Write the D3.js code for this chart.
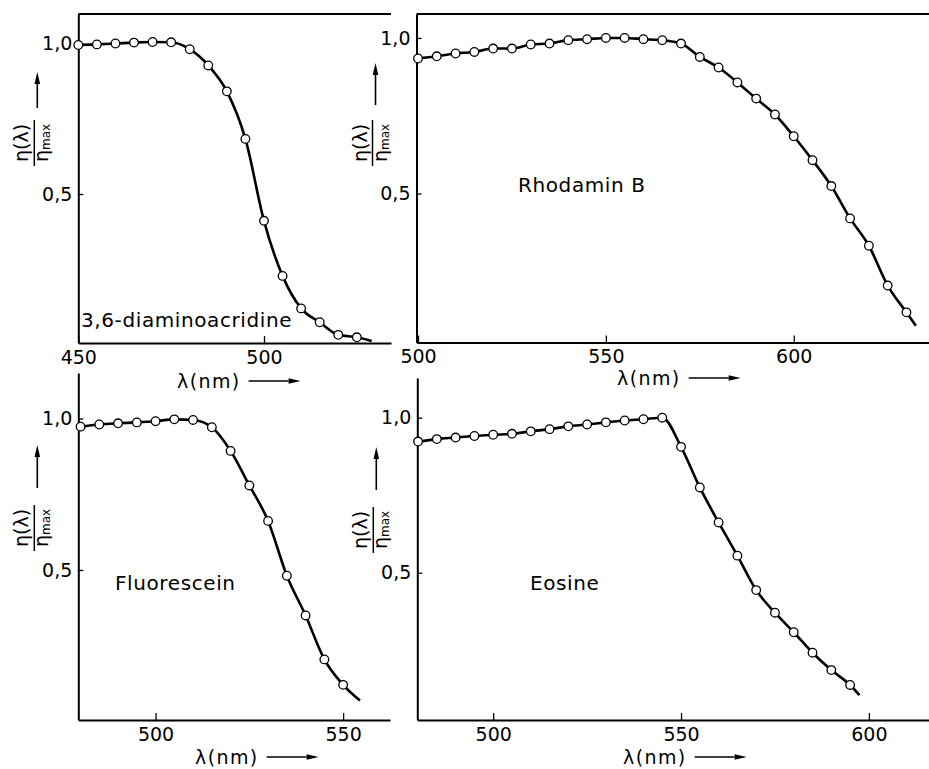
<!DOCTYPE html>
<html>
<head>
<meta charset="utf-8">
<script src="https://cdn.jsdelivr.net/npm/d3@7"></script>
<style>
  body { margin: 0; background: #fff; }
  svg { display: block; font-family: "DejaVu Sans", sans-serif; }
</style>
</head>
<body>
<div id="chart"></div>
<script>
// 3,6-diaminoacridine
const acridineNm = [450, 455, 460, 465, 470, 475, 480, 485, 490, 495, 500, 505, 510, 515, 520, 525];
const acridineEff = [0.995, 0.997, 1.0, 1.003, 1.005, 1.004, 0.981, 0.927, 0.841, 0.683, 0.411, 0.228, 0.12, 0.074, 0.032, 0.024];
const acridineTail = [529, 0.012];

// Rhodamin B
const rhodamineNm = [500, 505, 510, 515, 520, 525, 530, 535, 540, 545, 550, 555, 560, 565,
  570, 575, 580, 585, 590, 595, 600, 605, 610, 615, 620, 625, 630];
const rhodamineEff = [0.934, 0.941, 0.95, 0.955, 0.966, 0.966, 0.979, 0.982, 0.993, 0.996, 1.0, 1.0, 0.996, 0.993,
  0.982, 0.939, 0.905, 0.857, 0.805, 0.754, 0.684, 0.607, 0.524, 0.42, 0.332, 0.204, 0.118];
const rhodamineTail = [632.5, 0.075];

// Fluorescein
const fluoresceinNm = [480, 485, 490, 495, 500, 505, 510, 515, 520, 525, 530, 535, 540, 545, 550];
const fluoresceinEff = [0.973, 0.98, 0.984, 0.987, 0.991, 0.997, 0.995, 0.971, 0.893, 0.779, 0.662, 0.481, 0.35, 0.205, 0.121];
const fluoresceinTail = [554.5, 0.069];

// Eosine
const eosineNm = [480, 485, 490, 495, 500, 505, 510, 515, 520, 525, 530, 535, 540, 545,
  550, 555, 560, 565, 570, 575, 580, 585, 590, 595];
const eosineEff = [0.923, 0.931, 0.936, 0.941, 0.945, 0.948, 0.956, 0.963, 0.972, 0.978, 0.985, 0.991, 0.995, 1.0,
  0.906, 0.775, 0.662, 0.555, 0.444, 0.371, 0.308, 0.242, 0.186, 0.138];
const eosineTail = [597.5, 0.105];

const yTicks = [0.5, 1.0];
const xTicksAcridine = [450, 500];
const xTicksRhodamine = [500, 550, 600];
const xTicksFluorescein = [500, 550];
const xTicksEosine = [500, 550, 600];

const commaFormat = d3.formatLocale({ decimal: ",", thousands: ".", grouping: [3], currency: ["", ""] }).format(".1f");

const svg = d3.select("#chart").append("svg").attr("width", 929).attr("height", 769);

function drawArrow(g, x1, y1, x2, y2) {
  const ang = Math.atan2(y2 - y1, x2 - x1);
  const len = 12, half = 2.8;
  const bx = x2 - len * Math.cos(ang), by = y2 - len * Math.sin(ang);
  g.append("line")
    .attr("x1", x1).attr("y1", y1).attr("x2", bx).attr("y2", by)
    .attr("stroke", "#000").attr("stroke-width", 1.6);
  g.append("path")
    .attr("d", `M${x2},${y2}L${bx - half * Math.sin(ang)},${by + half * Math.cos(ang)}L${bx + half * Math.sin(ang)},${by - half * Math.cos(ang)}Z`)
    .attr("fill", "#000");
}

class EfficiencyPanel {
  constructor(_config) {
    this.config = _config;
    this.initVis();
  }

  initVis() {
    const vis = this;
    const c = vis.config;

    vis.g = svg.append("g");
    vis.x = d3.scaleLinear().domain(c.xDomain).range([c.left, c.right]);
    vis.y = d3.scaleLinear().domain(c.yDomain).range([c.bottom, c.top]);

    // axes with inward ticks
    vis.g.append("g")
      .attr("transform", `translate(0,${c.bottom})`)
      .call(d3.axisBottom(vis.x).tickValues(c.xTicks).tickFormat(d3.format("d"))
        .tickSizeInner(-7).tickSizeOuter(0).tickPadding(7.5))
      .call(g => g.select(".domain").attr("stroke-width", 2))
      .call(g => g.selectAll(".tick line").attr("stroke-width", 1.3))
      .call(g => g.selectAll("text").attr("font-size", 19).attr("font-family", "DejaVu Sans"));

    vis.g.append("g")
      .attr("transform", `translate(${c.left},0)`)
      .call(d3.axisLeft(vis.y).tickValues(yTicks).tickFormat(commaFormat)
        .tickSizeInner(-5).tickSizeOuter(0).tickPadding(6))
      .call(g => g.select(".domain").attr("stroke-width", 2))
      .call(g => g.selectAll(".tick line").attr("stroke-width", 1.3))
      .call(g => g.selectAll("text").attr("font-size", 19).attr("font-family", "DejaVu Sans"));

    if (c.topBorder) {
      vis.g.append("line")
        .attr("x1", c.left).attr("x2", c.right).attr("y1", c.top).attr("y2", c.top)
        .attr("stroke", "#000").attr("stroke-width", 2);
    }

    // y label: eta(lambda) / eta_max, rotated, with arrow
    const yl = vis.g.append("g")
      .attr("transform", `translate(${c.left - 44},${c.yLabelY}) rotate(-90)`);
    yl.append("text").attr("text-anchor", "middle").attr("y", -6)
      .attr("font-size", 19).text("η(λ)");
    yl.append("line").attr("x1", -23).attr("x2", 23).attr("y1", 0).attr("y2", 0)
      .attr("stroke", "#000").attr("stroke-width", 1.5);
    const den = yl.append("text").attr("text-anchor", "middle").attr("y", 14).attr("font-size", 19);
    den.append("tspan").text("η");
    den.append("tspan").attr("font-size", 12).attr("dy", 2).text("max");
    drawArrow(vis.g, c.left - 41, c.yArrow[0], c.left - 41, c.yArrow[1]);

    // x label with arrow
    const xl = vis.g.append("text")
      .attr("x", c.xLabel[0]).attr("y", c.xLabel[1])
      .attr("font-size", 19).attr("letter-spacing", 1.4)
      .text("λ(nm)");
    const end = c.xLabel[0] + xl.node().getComputedTextLength() + 8;
    drawArrow(vis.g, end, c.xLabel[1] - 7, end + 52, c.xLabel[1] - 7);

    // dye name
    vis.g.append("text")
      .attr("x", c.name[0]).attr("y", c.name[1])
      .attr("font-size", 20).attr("letter-spacing", 0.6)
      .text(c.title);

    vis.updateVis();
  }

  updateVis() {
    const vis = this;
    const c = vis.config;
    const pts = c.nm.map((d, i) => [d, c.eff[i]]);

    const line = d3.line()
      .x(d => vis.x(d[0]))
      .y(d => vis.y(d[1]))
      .curve(d3.curveMonotoneX);

    vis.g.append("path")
      .datum(pts.concat([c.tail]))
      .attr("d", line)
      .attr("fill", "none")
      .attr("stroke", "#000")
      .attr("stroke-width", 2.6)
      .attr("stroke-linejoin", "round");

    vis.g.selectAll("circle.pt")
      .data(pts)
      .join("circle")
      .attr("class", "pt")
      .attr("cx", d => vis.x(d[0]))
      .attr("cy", d => vis.y(d[1]))
      .attr("r", 4.3)
      .attr("fill", "#fff")
      .attr("stroke", "#000")
      .attr("stroke-width", 1.3);
  }
}

new EfficiencyPanel({
  title: "3,6-diaminoacridine", nm: acridineNm, eff: acridineEff, tail: acridineTail, xTicks: xTicksAcridine,
  left: 78.3, right: 391, top: 14, bottom: 343, xDomain: [450, 534.2], yDomain: [0.005, 1.098],
  topBorder: true, name: [81, 327], xLabel: [177, 388], yLabelY: 143, yArrow: [108, 72]
});
new EfficiencyPanel({
  title: "Rhodamin B", nm: rhodamineNm, eff: rhodamineEff, tail: rhodamineTail, xTicks: xTicksRhodamine,
  left: 416.5, right: 929, top: 14, bottom: 342.5, xDomain: [499.6, 636], yDomain: [0.021, 1.077],
  topBorder: true, name: [518, 192], xLabel: [617, 385], yLabelY: 143, yArrow: [105, 63]
});
new EfficiencyPanel({
  title: "Fluorescein", nm: fluoresceinNm, eff: fluoresceinEff, tail: fluoresceinTail, xTicks: xTicksFluorescein,
  left: 78.3, right: 390, top: 373, bottom: 720, xDomain: [479.4, 562.5], yDomain: [0.005, 1.15],
  topBorder: false, name: [115, 590], xLabel: [195, 764], yLabelY: 528, yArrow: [488, 445]
});
new EfficiencyPanel({
  title: "Eosine", nm: eosineNm, eff: eosineEff, tail: eosineTail, xTicks: xTicksEosine,
  left: 417.3, right: 929, top: 378, bottom: 720, xDomain: [479.8, 616], yDomain: [0.025, 1.128],
  topBorder: false, name: [530, 590], xLabel: [623, 764], yLabelY: 530, yArrow: [490, 447]
});
</script>
</body>
</html>
